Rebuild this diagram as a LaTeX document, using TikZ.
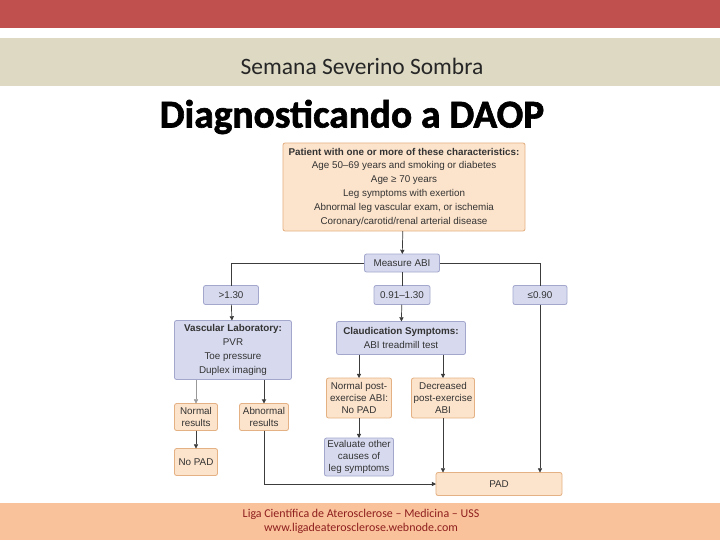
\documentclass[tikz,border=0pt]{standalone}
\usepackage{fontspec}
\setmainfont{Carlito}
\newfontfamily\chartfont{Liberation Sans}
\newfontfamily\titlefont{Carlito}[BoldFeatures={FakeBold=1.6}]
\usetikzlibrary{arrows.meta}
\definecolor{topred}{HTML}{C0504D}
\definecolor{beige}{HTML}{DDD9C3}
\definecolor{footpeach}{HTML}{FAC29A}
\definecolor{footred}{HTML}{8E1F1F}
\definecolor{peachfill}{HTML}{FCE3CB}
\definecolor{peachline}{HTML}{E3B183}
\definecolor{bluefill}{HTML}{D7DAEF}
\definecolor{blueline}{HTML}{A3A7CC}
\definecolor{wire}{HTML}{3C3C3C}

\begin{document}
\begin{tikzpicture}[x=0.025cm, y=-0.025cm,
  every node/.style={inner sep=0pt, outer sep=0pt, align=center, text=black!80,
    font=\chartfont\fontsize{7}{9.8}\selectfont},
  peachbox/.style={draw=peachline, fill=peachfill, rounded corners=1.5pt, line width=0.6pt},
  bluebox/.style={draw=blueline, fill=bluefill, rounded corners=1.5pt, line width=0.6pt},
  smalltext/.style={font=\chartfont\fontsize{7}{8.5}\selectfont},
  wirearrow/.style={draw=wire, line width=0.5pt, -{Triangle[length=3pt,width=3pt]}},
  wireline/.style={draw=wire, line width=0.5pt}]
\useasboundingbox (0,0) rectangle (720,540);

\fill[topred] (0,0) rectangle (720,28);
\fill[beige] (0,38) rectangle (720,86);
\fill[footpeach] (0,503) rectangle (720,540);

\node[font=\fontsize{16.7}{18}\selectfont, text=black!85] (band) at (362,66) {Semana Severino Sombra};
\node[font=\titlefont\bfseries\fontsize{28}{30}\selectfont, text=black] (title) at (352,117) {Diagnosticando a DAOP};
\node[font=\fontsize{8.5}{10}\selectfont, text=footred] (foot1) at (361,514) {Liga Científica de Aterosclerose – Medicina – USS};
\node[font=\fontsize{8.5}{10}\selectfont, text=footred] (foot2) at (361,528) {www.ligadeaterosclerose.webnode.com};

\node[peachbox, minimum width=6.05cm, minimum height=2.2cm] (patient) at (404,187)
  {\textbf{Patient with one or more of these characteristics:}\\
   Age 50–69 years and smoking or diabetes\\
   Age ≥ 70 years\\
   Leg symptoms with exertion\\
   Abnormal leg vascular exam, or ischemia\\
   Coronary/carotid/renal arterial disease};
\node[bluebox, minimum width=1.875cm, minimum height=0.45cm] (abi) at (402,263) {Measure ABI};

\node[bluebox, minimum width=1.375cm, minimum height=0.475cm] (high) at (231,295) {>1.30};
\node[bluebox, minimum width=1.4cm, minimum height=0.475cm] (mid) at (402,295) {0.91–1.30};
\node[bluebox, minimum width=1.35cm, minimum height=0.475cm] (low) at (540,295) {≤0.90};

\node[bluebox, minimum width=2.925cm, minimum height=1.475cm] (vasclab) at (233,350)
  {\textbf{Vascular Laboratory:}\\ PVR\\ Toe pressure\\ Duplex imaging};
\node[bluebox, minimum width=3.225cm, minimum height=0.825cm] (claud) at (401,338)
  {\textbf{Claudication Symptoms:}\\ ABI treadmill test};

\node[peachbox, smalltext, minimum width=1.625cm, minimum height=1cm] (normpost) at (359,398)
  {Normal post-\\ exercise ABI:\\ No PAD};
\node[peachbox, smalltext, minimum width=1.575cm, minimum height=1cm] (decpost) at (443,398)
  {Decreased\\ post-exercise\\ ABI};
\node[peachbox, smalltext, minimum width=1.075cm, minimum height=0.675cm] (normres) at (196,417) {Normal\\ results};
\node[peachbox, smalltext, minimum width=1.225cm, minimum height=0.675cm] (abnres) at (264,417) {Abnormal\\ results};
\node[peachbox, minimum width=1.075cm, minimum height=0.675cm] (nopad) at (196,462) {No PAD};
\node[bluebox, smalltext, minimum width=1.725cm, minimum height=0.95cm] (evaluate) at (359,457)
  {Evaluate other\\ causes of\\ leg symptoms};
\node[peachbox, minimum width=3.15cm, minimum height=0.575cm] (pad) at (499,484) {PAD};

\draw[wirearrow] (patient) -- (abi);
\draw[wireline] (abi.west) -| (high.north);
\draw[wireline] (abi.east) -| (low.north);
\draw[wireline] (abi) -- (mid);
\draw[wirearrow] (high) -- (vasclab);
\draw[wirearrow] (mid) -- (claud);
\draw[wirearrow] (normpost.north |- claud.south) -- (normpost.north);
\draw[wirearrow] (decpost.north |- claud.south) -- (decpost.north);
\draw[wirearrow, draw=black!40, line width=0.3pt] (normres.north |- vasclab.south) -- (normres.north);
\draw[wirearrow, line width=0.7pt] (abnres.north |- vasclab.south) -- (abnres.north);
\draw[wirearrow] (normres) -- (nopad);
\draw[wirearrow] (normpost) -- (evaluate);
\draw[wirearrow] (decpost.south) -- (decpost.south |- pad.north);
\draw[wirearrow] (low.south) -- (low.south |- pad.north);
\draw[wirearrow] (abnres.south) |- (pad.west);
\end{tikzpicture}
\end{document}
